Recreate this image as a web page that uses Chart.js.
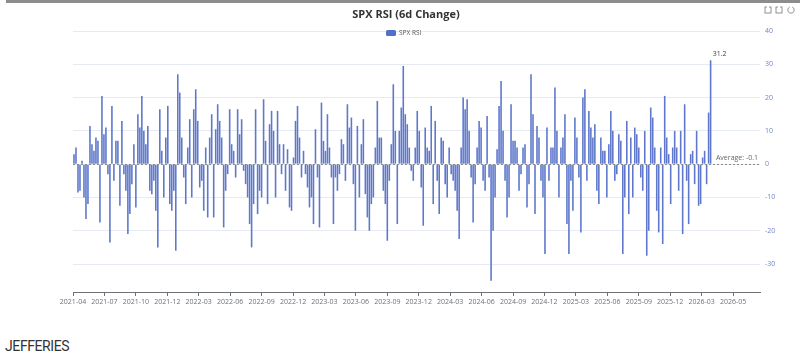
<!DOCTYPE html>
<html>
<head>
<meta charset="utf-8">
<script src="https://cdn.jsdelivr.net/npm/chart.js@4.4.1/dist/chart.umd.min.js"></script>
<style>
  body { margin: 0; background: #fff; }
  #wrap { position: relative; width: 800px; height: 363px; overflow: hidden; }
  #topbar { position: absolute; left: 6px; top: 0; width: 794px; height: 3px; background: #8c8c8c; }
  #rsiChart { position: absolute; left: 0; top: 0; }
  #brand { position: absolute; left: 5px; top: 338px; font-family: Roboto, sans-serif; font-size: 14px; color: #333; letter-spacing: -0.4px; }
</style>
</head>
<body>
<div id="wrap">
  <canvas id="rsiChart" width="800" height="328"></canvas>
  <div id="topbar"></div>
  <div id="brand">JEFFERIES</div>
</div>
<script>
// tick labels on the date axis, one every 63 trading days
const tickLabels = ['2021-04','2021-07','2021-10','2021-12','2022-03','2022-06','2022-09','2022-12',
  '2023-03','2023-06','2023-09','2023-12','2024-03','2024-06','2024-09','2024-12',
  '2025-03','2025-06','2025-09','2025-12','2026-03','2026-05'];
const daysPerTick = 63;
const lastDay = 1377;

// SPX RSI 6d change, sampled every 4 trading days
const rsiChange = [
  3, 5, -8.5, -8, 1, -10, -16.5, -12, 11.5, 6,
  4, 8, 7, -17.5, 20.5, 9, 11, -3, -23.5, 17.5,
  -5, 7, 7, -12.5, 13, -3, -8, -21, -15, -6,
  6, -13, 15, 11, 20.5, 10, 6, 11.5, -8, -9,
  -5, -14, -25, 16.5, 4, -10, 8, 17.5, -12, -14,
  -8, -26, 27, 21.5, 8, -4, -12, 5, 13.5, -10,
  16.5, 22.5, 13, -7, -5, -14, 5, -16, 8, 15,
  -16, 10.5, 18, 13, 8, -19, -8, -3, 16.5, 6,
  4, -4, 16.5, 9, 13.5, -2, -6, -10, -18, -25,
  -12, 16.5, -15, -8, -10, 19.5, 7, -12, 12, 16,
  10, -10, 16, 6, -3, 6, -8, 4.5, -13, -14,
  2, 13, 17.5, 8, -4, 4, -3, -7, -13, -10,
  -18, 10.5, -4, -19, 18.5, 7, 4, 15, 5, -4,
  -18, -4, -8, -3, 7.5, 6, -5, 18, 11, 14,
  -6, -20, 11.5, -10, 6, 13.5, -9, -16, -20, -12,
  -10, 5, 19, 8, 8, -8, -12, -23, -5, 6,
  24, 10, -18, 10, 17, 29.5, 15, 12, 5, -2,
  -5, 5, 16, 10, -7, -18.5, 11, 5, 4, 17.5,
  -12, 13, -5, -15, 8, 7, -6, -10, 5, -3,
  -5, -8, -14, -22.5, 5, 20, 16.5, 19.5, 10, -4,
  -17.5, -6, 5, 13, 11, -5, -8, 14.5, -4, -35,
  -20, -10, 4.5, 17.5, 25, 10, -5, -16, -10, 18,
  7, 7, 5, -8, -3, 5, 6, -13, -6, 27,
  15, -15, 11.5, 8, -5, -10, -27, 11, -5, 5,
  5, 23, 10, -10, 5, 8, 15, -18, -27, -5,
  -14, 14, 8, -4, -20.5, 20, 22.5, -5, 16, 11,
  8, 12, -8, -12, 8, 4, 4, -10, 6, 16,
  10, -5, -3, 9, 7, -27, -10, 13, -15, 8,
  -10, 11, 9, 5, -4, -8, 10, -27.5, -20, 17,
  14, 5, -14, -20.5, 5, -24, 20.5, 8, 3, -12,
  5, 10, 5, -8, 10, -21, 18, -5, -18, 3,
  4, -6, 10, -12.5, -12, 2, 4, -6, 15.5, 31.2
];
const stepDays = 4;
const avgValue = -0.1;

const yTicks = [-30, -20, -10, 0, 10, 20, 30, 40];
const legendColor = '#5470c6';
const barColor = '#5f78cb';

const points = rsiChange.map((v, i) => ({ x: 2 + i * stepDays, y: v }));

const extras = {
  id: 'extras',
  afterDatasetsDraw(chart) {
    const ctx = chart.ctx;
    const area = chart.chartArea;
    const xs = chart.scales.x, ys = chart.scales.y;
    ctx.save();
    // average line
    const ay = Math.round(ys.getPixelForValue(avgValue)) + 0.5;
    ctx.strokeStyle = '#8c8c8c';
    ctx.lineWidth = 1;
    ctx.setLineDash([2, 2]);
    ctx.beginPath();
    ctx.moveTo(area.left, ay);
    ctx.lineTo(area.right, ay);
    ctx.stroke();
    ctx.setLineDash([]);
    ctx.font = '7px "Open Sans", sans-serif';
    ctx.fillStyle = '#666';
    ctx.textAlign = 'right';
    ctx.textBaseline = 'bottom';
    ctx.fillText('Average: ' + avgValue.toFixed(1), area.right - 2, ay - 3);
    // max label
    let mi = 0;
    rsiChange.forEach((v, i) => { if (v > rsiChange[mi]) mi = i; });
    const mx = xs.getPixelForValue(points[mi].x);
    const my = ys.getPixelForValue(points[mi].y);
    ctx.fillStyle = '#444';
    ctx.textAlign = 'center';
    ctx.fillText(rsiChange[mi].toFixed(1), mx + 9, my - 3);
    ctx.restore();
  },
  afterDraw(chart) {
    const ctx = chart.ctx;
    ctx.save();
    // title
    ctx.fillStyle = '#333';
    ctx.font = 'bold 11px "Open Sans", sans-serif';
    ctx.textAlign = 'center';
    ctx.textBaseline = 'middle';
    ctx.fillText('SPX RSI (6d Change)', 406, 15);
    // legend
    ctx.fillStyle = legendColor;
    ctx.beginPath();
    ctx.roundRect(386, 30, 10, 6, 1.5);
    ctx.fill();
    ctx.fillStyle = '#555';
    ctx.font = '6.5px "Open Sans", sans-serif';
    ctx.textAlign = 'left';
    ctx.fillText('SPX RSI', 399, 33.5);
    // toolbox icons
    ctx.strokeStyle = '#777';
    ctx.lineWidth = 0.8;
    [765, 776].forEach(x => {
      ctx.strokeRect(x, 7, 6, 6);
      ctx.clearRect(x + 2, 6, 2, 2);
    });
    ctx.beginPath();
    ctx.arc(791, 10, 3.2, -1.2, 4.3);
    ctx.stroke();
    ctx.restore();
  }
};

new Chart(document.getElementById('rsiChart'), {
  type: 'bar',
  data: {
    datasets: [{
      label: 'SPX RSI',
      data: points,
      backgroundColor: barColor,
      categoryPercentage: 1,
      barPercentage: 0.8
    }]
  },
  options: {
    responsive: false,
    animation: false,
    layout: { padding: { left: 73, top: 31, right: 0, bottom: 0 } },
    plugins: { legend: { display: false }, title: { display: false }, tooltip: { enabled: false } },
    scales: {
      x: {
        type: 'linear',
        offset: false,
        min: 0,
        max: lastDay,
        afterBuildTicks: s => { s.ticks = tickLabels.map((_, k) => ({ value: k * daysPerTick })); },
        afterFit: s => { s.height = 36; },
        ticks: {
          autoSkip: false,
          maxRotation: 0,
          padding: 2,
          color: '#6E7079',
          font: { size: 7, family: '"Open Sans", sans-serif' },
          callback: v => tickLabels[Math.round(v / daysPerTick)]
        },
        grid: { offset: false, drawOnChartArea: false, drawTicks: true, tickLength: 4, tickColor: '#6E7079' },
        border: { display: true, color: '#6E7079' }
      },
      y: {
        position: 'right',
        min: -38.4,
        max: 40,
        afterBuildTicks: s => { s.ticks = yTicks.map(v => ({ value: v })); },
        afterFit: s => { s.width = 40; },
        ticks: {
          padding: 5,
          color: '#7283c8',
          font: { size: 7, family: '"Open Sans", sans-serif' }
        },
        grid: { color: '#E6EAF3', drawTicks: false },
        border: { display: false }
      }
    }
  },
  plugins: [extras]
});
</script>
</body>
</html>
